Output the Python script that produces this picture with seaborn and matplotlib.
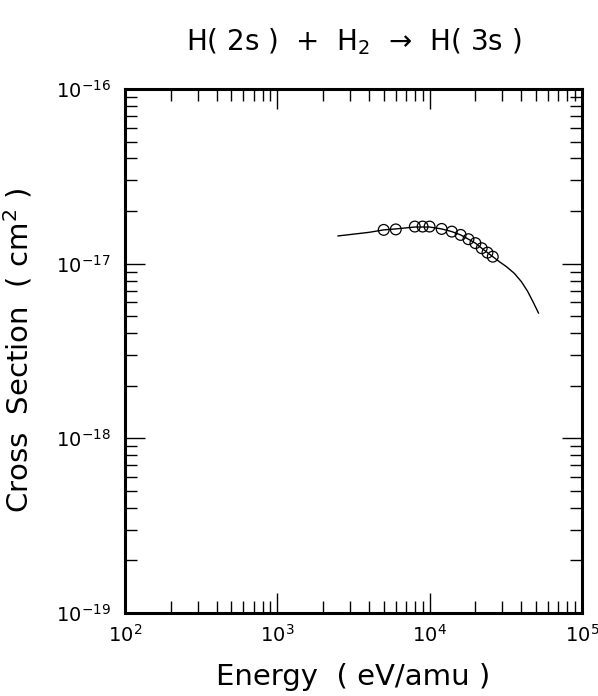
import numpy as np
import pandas as pd
import matplotlib
matplotlib.use("Agg")
import matplotlib.pyplot as plt
import seaborn as sns

# fitted curve
curve_energy = [2500, 4000, 5000, 6000, 8000, 10000, 12000, 14000, 16000, 18000,
                20000, 22000, 24000, 26000, 29000, 32000, 36000, 40000, 44000,
                48000, 52000]
curve_sigma = [1.44e-17, 1.51e-17, 1.56e-17, 1.58e-17, 1.62e-17, 1.62e-17, 1.58e-17,
               1.525e-17, 1.46e-17, 1.38e-17, 1.31e-17, 1.225e-17, 1.156e-17,
               1.096e-17, 1.02e-17, 9.6e-18, 8.8e-18, 7.9e-18, 6.95e-18, 6.0e-18,
               5.2e-18]

# measured points
pt_energy = [5000, 6000, 8000, 9000, 10000, 12000, 14000, 16000, 18000, 20000,
             22000, 24000, 26000]
pt_sigma = [1.56e-17, 1.57e-17, 1.63e-17, 1.63e-17, 1.63e-17, 1.58e-17, 1.525e-17,
            1.46e-17, 1.38e-17, 1.31e-17, 1.225e-17, 1.156e-17, 1.096e-17]

curve = pd.DataFrame({"energy": curve_energy, "sigma": curve_sigma})
points = pd.DataFrame({"energy": pt_energy, "sigma": pt_sigma})

sns.set_style("ticks")
plt.rcParams['font.family'] = ['DejaVu Sans']
plt.rcParams['text.color'] = 'black'
plt.rcParams['axes.labelcolor'] = 'black'

fig = plt.figure(figsize=(5.98, 6.96), dpi=100)
ax = fig.add_axes([0.209, 0.1193, 0.764, 0.7529])

sns.lineplot(data=curve, x="energy", y="sigma", ax=ax, color="black", lw=1.0)
sns.scatterplot(data=points, x="energy", y="sigma", ax=ax, marker="o", s=60,
                facecolor="none", edgecolor="black", linewidth=0.9, zorder=3)

ax.set_xscale("log")
ax.set_yscale("log")
ax.set_xlim(1e2, 1e5)
ax.set_ylim(1e-19, 1e-16)

for sp in ax.spines.values():
    sp.set_linewidth(2.2)
    sp.set_color("black")

ax.tick_params(which="both", direction="in", top=True, right=True, width=1.0,
               colors="black", labelcolor="black", labelsize=14)
ax.tick_params(which="major", length=14.4, pad=8)
ax.tick_params(which="minor", length=8.6)
ax.tick_params(axis="y", which="major", pad=10)

ax.set_xlabel("Energy  ( eV/amu )", fontsize=21, labelpad=12, color="black")
ax.set_ylabel("Cross  Section  ( cm$^2$ )", fontsize=21, color="black")
ax.yaxis.set_label_coords(-0.197, 0.5)
ax.set_title("H( 2s )  +  H$_2$  →  H( 3s )", fontsize=20, pad=28, color="black")

fig.savefig("out.png", dpi=100, facecolor="white")
